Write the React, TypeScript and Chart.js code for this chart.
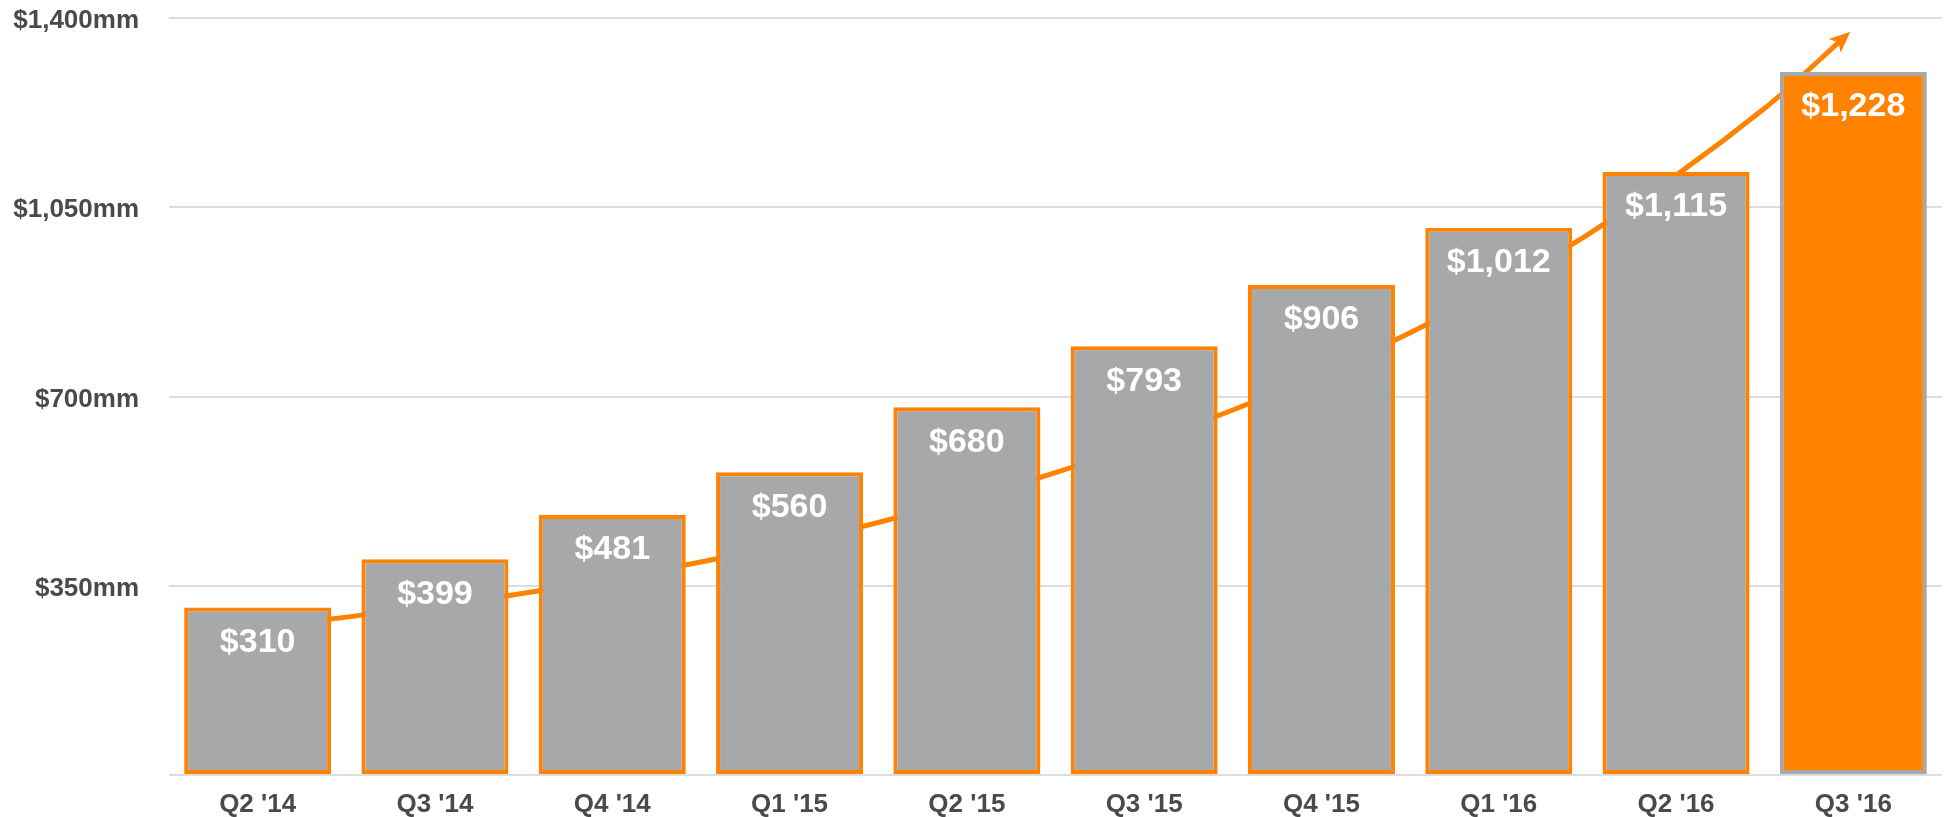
import React, { useEffect, useRef } from "react";
import { Chart, registerables } from "chart.js";

Chart.register(...registerables);

const categories = ["Q2 '14", "Q3 '14", "Q4 '14", "Q1 '15", "Q2 '15", "Q3 '15", "Q4 '15", "Q1 '16", "Q2 '16", "Q3 '16"];
const barValues = [310, 399, 481, 560, 680, 793, 906, 1012, 1115, 1300];
const barLabels = ["$310", "$399", "$481", "$560", "$680", "$793", "$906", "$1,012", "$1,115", "$1,228"];
const trendX = [0, 0.5, 1.5, 2.5, 3.5, 4.5, 5.5, 6.5, 7.5, 8.5, 8.958];
const trendY = [272, 292, 336, 394, 467, 559, 675, 818, 999, 1233, 1367];
const yTickValues = [0, 350, 700, 1050, 1400];
const yTickLabels = ["", "$350mm", "$700mm", "$1,050mm", "$1,400mm"];

const ORANGE = "#ff8200";
const GRAY = "#a7a8aa";
const TEXT = "#4a4a48";
const FONT = "'Liberation Sans', Arial, Helvetica, sans-serif";

const barLabelPlugin = {
  id: "barLabels",
  afterDatasetsDraw(chart: any) {
    const meta = chart.getDatasetMeta(0);
    const ctx = chart.ctx;
    ctx.save();
    ctx.fillStyle = "#ffffff";
    ctx.font = `bold 34px ${FONT}`;
    ctx.textAlign = "center";
    ctx.textBaseline = "middle";
    meta.data.forEach((el: any, i: number) => {
      ctx.fillText(barLabels[i], el.x, el.y + 35);
    });
    ctx.restore();
  },
};

const arrowPlugin = {
  id: "arrowHead",
  afterDatasetDraw(chart: any, args: any) {
    if (args.index !== 1) return;
    const pts = args.meta.data;
    const n = pts.length;
    if (n < 2) return;
    const end = pts[n - 1];
    let px = pts[n - 2].x;
    let py = pts[n - 2].y;
    if (typeof end.cp1x === "number" && isFinite(end.cp1x) && (end.cp1x !== end.x || end.cp1y !== end.y)) {
      px = end.cp1x;
      py = end.cp1y;
    }
    const dx = end.x - px;
    const dy = end.y - py;
    const len = Math.hypot(dx, dy) || 1;
    const ux = dx / len;
    const uy = dy / len;
    const tipX = end.x + ux * 6;
    const tipY = end.y + uy * 6;
    const L = 21;
    const W = 9;
    const bx = tipX - ux * L;
    const by = tipY - uy * L;
    const ctx = chart.ctx;
    ctx.save();
    ctx.fillStyle = ORANGE;
    ctx.beginPath();
    ctx.moveTo(tipX, tipY);
    ctx.lineTo(bx - uy * W, by + ux * W);
    ctx.lineTo(bx + ux * 5, by + uy * 5);
    ctx.lineTo(bx + uy * W, by - ux * W);
    ctx.closePath();
    ctx.fill();
    ctx.restore();
  },
};

export default function App() {
  const ref = useRef<HTMLCanvasElement | null>(null);
  useEffect(() => {
    document.body.style.margin = "0";
    const canvas = ref.current;
    if (!canvas) return;
    const n = categories.length;
    const chart = new Chart(canvas, {
      type: "bar",
      data: {
        labels: categories,
        datasets: [
          {
            type: "bar",
            data: barValues,
            backgroundColor: barValues.map((_, i) => (i === n - 1 ? ORANGE : GRAY)),
            borderColor: barValues.map((_, i) => (i === n - 1 ? GRAY : ORANGE)),
            borderWidth: 4,
            borderSkipped: false,
            grouped: false,
            categoryPercentage: 1,
            barPercentage: 0.829,
            order: 1,
          } as any,
          {
            type: "line",
            xAxisID: "x2",
            data: trendX.map((x, i) => ({ x, y: trendY[i] })),
            borderColor: ORANGE,
            borderWidth: 5,
            pointRadius: 0,
            cubicInterpolationMode: "monotone",
            fill: false,
            order: 2,
          } as any,
        ],
      },
      options: {
        responsive: false,
        animation: false,
        devicePixelRatio: 1,
        layout: { padding: { top: 18, right: 4, left: 0, bottom: 0 } },
        plugins: { legend: { display: false }, tooltip: { enabled: false } },
        scales: {
          x: {
            type: "category",
            grid: { display: false, drawTicks: false },
            border: { display: false },
            ticks: {
              color: TEXT,
              font: { family: FONT, size: 26, weight: "bold" },
              padding: 14,
              maxRotation: 0,
            },
            afterFit(scale: any) {
              scale.height = 42;
              scale.paddingLeft = 0;
              scale.paddingRight = 0;
            },
          },
          x2: {
            type: "linear",
            display: false,
            position: "bottom",
            offset: false,
            grace: 0,
            min: -0.5,
            max: n - 0.5,
          },
          y: {
            min: 0,
            max: 1400,
            afterBuildTicks(scale: any) {
              scale.ticks = yTickValues.map((v) => ({ value: v }));
            },
            grid: { color: "#dddddd", lineWidth: 2, drawTicks: false },
            border: { display: false },
            ticks: {
              color: TEXT,
              font: { family: FONT, size: 26, weight: "bold" },
              padding: 30,
              labelOffset: 3,
              callback(value: any) {
                const idx = yTickValues.indexOf(Number(value));
                return idx >= 0 ? yTickLabels[idx] : "";
              },
            },
            afterFit(scale: any) {
              scale.width = 169;
              scale.paddingTop = 0;
              scale.paddingBottom = 0;
            },
          },
        },
      } as any,
      plugins: [barLabelPlugin, arrowPlugin],
    });
    return () => chart.destroy();
  }, []);
  return (
    <div style={{ width: 1946, height: 817 }}>
      <canvas ref={ref} width={1946} height={817} style={{ display: "block" }} />
    </div>
  );
}
